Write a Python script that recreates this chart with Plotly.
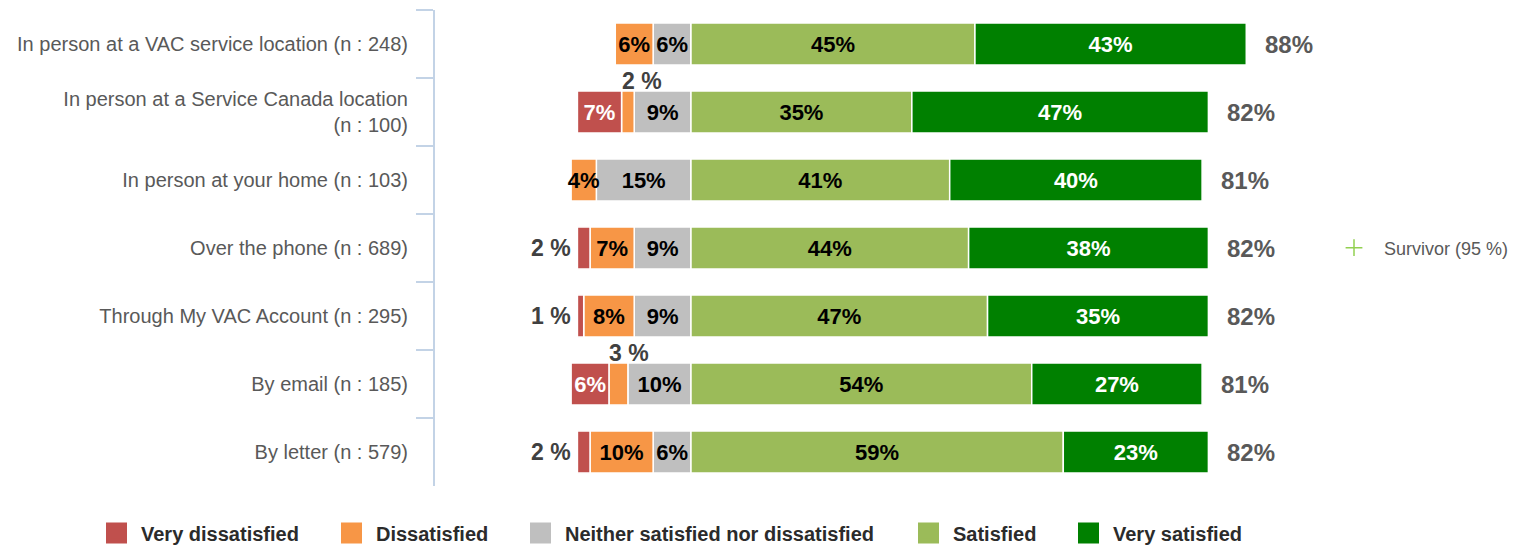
import plotly.graph_objects as go

categories = [
    "In person at a VAC service location (n : 248)",
    "In person at a Service Canada location<br>(n : 100)",
    "In person at your home (n : 103)",
    "Over the phone (n : 689)",
    "Through My VAC Account (n : 295)",
    "By email (n : 185)",
    "By letter (n : 579)",
]
very_dissatisfied = [0, 7, 0, 2, 1, 6, 2]
dissatisfied = [6, 2, 4, 7, 8, 3, 10]
neither = [6, 9, 15, 9, 9, 10, 6]
satisfied = [45, 35, 41, 44, 47, 54, 59]
very_satisfied = [43, 47, 40, 38, 35, 27, 23]
totals = [88, 82, 81, 82, 82, 81, 82]

series_names = ["Very dissatisfied", "Dissatisfied", "Neither satisfied nor dissatisfied",
                "Satisfied", "Very satisfied"]
colors = ["#C0504D", "#F79646", "#BFBFBF", "#9BBB59", "#008000"]
text_colors = ["white", "black", "black", "black", "white"]
comparison_name = "Survivor (95 %)"

FONT = "Liberation Sans, Arial, sans-serif"
W, H = 1520, 546
OFF = 8  # page body margin

fig = go.Figure()

# negative side: closest to zero first
neg = [(2, neither), (1, dissatisfied), (0, very_dissatisfied)]
pos = [(3, satisfied), (4, very_satisfied)]

def lab(vals):
    return [f"{v}%" if v >= 4 else "" for v in vals]

for idx, vals in neg:
    fig.add_trace(go.Bar(
        y=categories, x=[-v for v in vals], orientation="h",
        marker=dict(color=colors[idx], line=dict(color="white", width=1.5)),
        text=lab(vals), textposition="inside", insidetextanchor="middle",
        constraintext="none", textangle=0,
        textfont=dict(family=FONT, size=22, color=text_colors[idx], weight="bold"),
        showlegend=False, hoverinfo="skip", name=series_names[idx]))
for idx, vals in pos:
    fig.add_trace(go.Bar(
        y=categories, x=vals, orientation="h",
        marker=dict(color=colors[idx], line=dict(color="white", width=1.5)),
        text=lab(vals), textposition="inside", insidetextanchor="middle",
        constraintext="none", textangle=0,
        textfont=dict(family=FONT, size=22, color=text_colors[idx], weight="bold"),
        showlegend=False, hoverinfo="skip", name=series_names[idx]))

# legend entries (one legend per item, positioned individually)
legend_ids = ["legend", "legend2", "legend3", "legend4", "legend5"]
legend_x = [84, 319, 508, 896, 1056]
for i, name in enumerate(series_names):
    fig.add_trace(go.Scatter(
        x=[None], y=[None], mode="markers", name=name,
        marker=dict(symbol="square", size=16, color=colors[i],
                    line=dict(color=colors[i], width=5)),
        legend=legend_ids[i], showlegend=True, hoverinfo="skip"))

fig.add_trace(go.Scatter(
    x=[None], y=[None], mode="markers", name=comparison_name,
    marker=dict(symbol="cross-thin", size=12, color="#92D050",
                line=dict(color="#92D050", width=1.5)),
    legend="legend6", showlegend=True, hoverinfo="skip"))

annotations = []
for i, cat in enumerate(categories):
    left_edge = -(neither[i] + dissatisfied[i] + very_dissatisfied[i])
    if 0 < very_dissatisfied[i] < 4:
        annotations.append(dict(x=left_edge, y=cat, xref="x", yref="y",
                                text=f"{very_dissatisfied[i]} %", showarrow=False,
                                xanchor="right", yanchor="middle", xshift=-4,
                                font=dict(family=FONT, size=23, color="#404040", weight="bold")))
    if 0 < dissatisfied[i] < 4:
        annotations.append(dict(x=-(neither[i] + dissatisfied[i]), y=cat, xref="x", yref="y",
                                text=f"{dissatisfied[i]} %", showarrow=False,
                                xanchor="left", yanchor="middle", yshift=31, xshift=-2,
                                font=dict(family=FONT, size=23, color="#404040", weight="bold")))
    annotations.append(dict(x=totals[i], y=cat, xref="x", yref="y",
                            text=f"{totals[i]}%", showarrow=False,
                            xanchor="left", yanchor="middle", xshift=17,
                            font=dict(family=FONT, size=24, color="#595959", weight="bold")))

legend_common = dict(orientation="h", xref="container", yref="container",
                     yanchor="middle", y=(H - (533 - OFF)) / H, itemwidth=39,
                     font=dict(family=FONT, size=20, color="#2B2B2B", weight="bold"),
                     bgcolor="rgba(0,0,0,0)", borderwidth=0)

layout_legends = {}
for lid, lx in zip(legend_ids, legend_x):
    layout_legends[lid] = dict(legend_common, x=lx / W, xanchor="left")
layout_legends["legend6"] = dict(orientation="h", xref="container", yref="container",
                                 x=1316 / W, xanchor="left", y=(H - (248 - OFF)) / H,
                                 yanchor="middle", itemwidth=50,
                                 font=dict(family=FONT, size=18, color="#595959"),
                                 bgcolor="rgba(0,0,0,0)", borderwidth=0)

fig.update_layout(
    barmode="relative", bargap=0.38,
    width=W, height=H,
    margin=dict(l=427, r=198, t=2, b=68, autoexpand=False),
    paper_bgcolor="white", plot_bgcolor="white",
    xaxis=dict(range=[-40.57, 101.27], visible=False, fixedrange=True),
    yaxis=dict(categoryorder="array", categoryarray=categories,
               range=[6.5, -0.5], showline=True, linecolor="#C3D3E6", linewidth=2,
               ticks="outside", tickson="boundaries", ticklen=17, tickcolor="#C3D3E6",
               tickwidth=2, showgrid=False, zeroline=False,
               tickfont=dict(family=FONT, size=20, color="#595959"),
               ticklabelstandoff=21, fixedrange=True),
    annotations=annotations,
    **layout_legends,
)

fig.write_html("out.html")
